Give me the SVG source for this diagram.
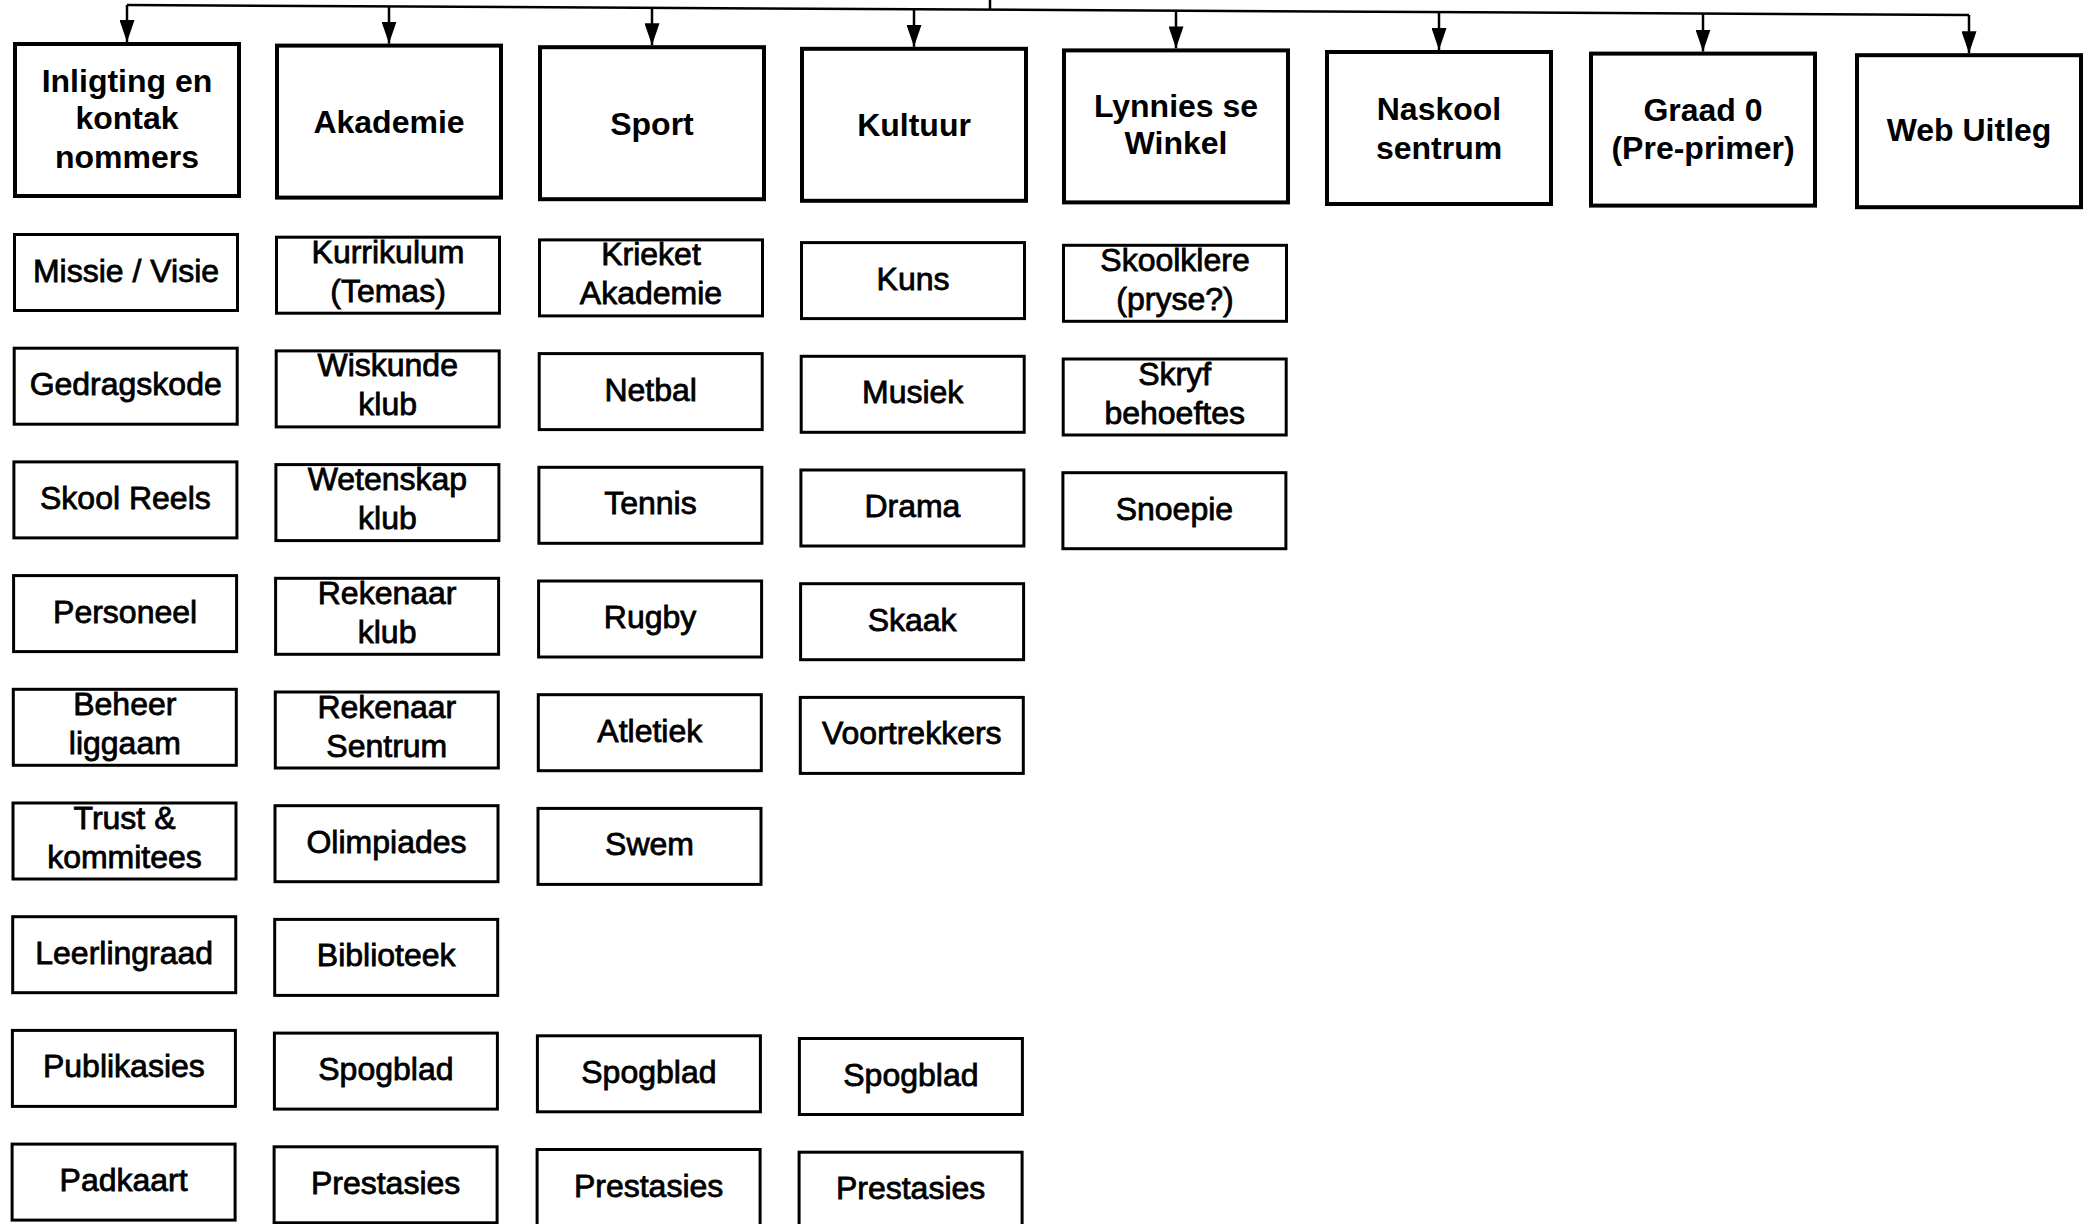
<svg xmlns="http://www.w3.org/2000/svg" width="2092" height="1224" viewBox="0 0 2092 1224">
<defs>
<style>
.top rect{fill:#fff;stroke:#000;stroke-width:4}
.sub rect{fill:#fff;stroke:#000;stroke-width:3}
.top text{font-family:"Liberation Sans",Arial,sans-serif;font-weight:bold;font-size:32px;text-anchor:middle;fill:#000}
.sub text{font-family:"Liberation Sans",Arial,sans-serif;font-size:32px;text-anchor:middle;fill:#000;stroke:#000;stroke-width:0.8}
.conn line{stroke:#000;stroke-width:2.5;fill:none}
</style>
<marker id="ah" markerUnits="userSpaceOnUse" markerWidth="22" markerHeight="15" viewBox="0 0 22 15" refX="22" refY="7.5" orient="auto">
<path d="M0,0 L22,7.5 L0,15 Z" fill="#000"/>
</marker>
</defs>
<rect width="2092" height="1224" fill="#fff"/>
<g id="connectors" class="conn">
<line x1="990" y1="0" x2="990" y2="10.2"/>
<line x1="127" y1="5" x2="1969" y2="15"/>
<line x1="127" y1="5" x2="127" y2="42" marker-end="url(#ah)"/>
<line x1="389" y1="6.4" x2="389" y2="43.6" marker-end="url(#ah)"/>
<line x1="652" y1="7.9" x2="652" y2="45.2" marker-end="url(#ah)"/>
<line x1="914" y1="9.3" x2="914" y2="46.8" marker-end="url(#ah)"/>
<line x1="1176" y1="10.7" x2="1176" y2="48.4" marker-end="url(#ah)"/>
<line x1="1439" y1="12.1" x2="1439" y2="50" marker-end="url(#ah)"/>
<line x1="1703" y1="13.6" x2="1703" y2="51.6" marker-end="url(#ah)"/>
<line x1="1969" y1="15" x2="1969" y2="53.2" marker-end="url(#ah)"/>
</g>
<g id="inligting" class="top" transform="translate(13,42)"><rect x="2" y="2" width="224" height="152"/><text x="114" y="49.5">Inligting en</text><text x="114" y="86.5">kontak</text><text x="114" y="125.5">nommers</text></g>
<g id="akademie" class="top" transform="translate(275,43.6)"><rect x="2" y="2" width="224" height="152"/><text x="114" y="89.5">Akademie</text></g>
<g id="sport" class="top" transform="translate(538,45.2)"><rect x="2" y="2" width="224" height="152"/><text x="114" y="89.5">Sport</text></g>
<g id="kultuur" class="top" transform="translate(800,46.8)"><rect x="2" y="2" width="224" height="152"/><text x="114" y="89.5">Kultuur</text></g>
<g id="winkel" class="top" transform="translate(1062,48.4)"><rect x="2" y="2" width="224" height="152"/><text x="114" y="68.5">Lynnies se</text><text x="114" y="105.5">Winkel</text></g>
<g id="naskool" class="top" transform="translate(1325,50)"><rect x="2" y="2" width="224" height="152"/><text x="114" y="69.5">Naskool</text><text x="114" y="108.5">sentrum</text></g>
<g id="graad0" class="top" transform="translate(1589,51.6)"><rect x="2" y="2" width="224" height="152"/><text x="114" y="69">Graad 0</text><text x="114" y="107">(Pre-primer)</text></g>
<g id="web" class="top" transform="translate(1855,53.2)"><rect x="2" y="2" width="224" height="152"/><text x="114" y="87.5">Web Uitleg</text></g>

<g id="missie" class="sub" transform="translate(13,233)"><rect x="1.5" y="1.5" width="223" height="76"/><text x="113" y="48.5">Missie / Visie</text></g>
<g id="gedragskode" class="sub" transform="translate(12.7,346.7)"><rect x="1.5" y="1.5" width="223" height="76"/><text x="113" y="48.5">Gedragskode</text></g>
<g id="skoolreels" class="sub" transform="translate(12.4,460.4)"><rect x="1.5" y="1.5" width="223" height="76"/><text x="113" y="48.5">Skool Reels</text></g>
<g id="personeel" class="sub" transform="translate(12.1,574.1)"><rect x="1.5" y="1.5" width="223" height="76"/><text x="113" y="48.5">Personeel</text></g>
<g id="beheer" class="sub" transform="translate(11.8,687.8)"><rect x="1.5" y="1.5" width="223" height="76"/><text x="113" y="27">Beheer</text><text x="113" y="66">liggaam</text></g>
<g id="trust" class="sub" transform="translate(11.5,801.5)"><rect x="1.5" y="1.5" width="223" height="76"/><text x="113" y="27">Trust &amp;</text><text x="113" y="66">kommitees</text></g>
<g id="leerlingraad" class="sub" transform="translate(11.2,915.2)"><rect x="1.5" y="1.5" width="223" height="76"/><text x="113" y="48.5">Leerlingraad</text></g>
<g id="publikasies" class="sub" transform="translate(10.9,1028.9)"><rect x="1.5" y="1.5" width="223" height="76"/><text x="113" y="48.5">Publikasies</text></g>
<g id="padkaart" class="sub" transform="translate(10.6,1142.6)"><rect x="1.5" y="1.5" width="223" height="76"/><text x="113" y="48.5">Padkaart</text></g>

<g id="kurrikulum" class="sub" transform="translate(275,235.7)"><rect x="1.5" y="1.5" width="223" height="76"/><text x="113" y="27">Kurrikulum</text><text x="113" y="66">(Temas)</text></g>
<g id="wiskunde" class="sub" transform="translate(274.7,349.4)"><rect x="1.5" y="1.5" width="223" height="76"/><text x="113" y="27">Wiskunde</text><text x="113" y="66">klub</text></g>
<g id="wetenskap" class="sub" transform="translate(274.4,463.1)"><rect x="1.5" y="1.5" width="223" height="76"/><text x="113" y="27">Wetenskap</text><text x="113" y="66">klub</text></g>
<g id="rekenaarklub" class="sub" transform="translate(274.1,576.8)"><rect x="1.5" y="1.5" width="223" height="76"/><text x="113" y="27">Rekenaar</text><text x="113" y="66">klub</text></g>
<g id="rekenaarsentrum" class="sub" transform="translate(273.8,690.5)"><rect x="1.5" y="1.5" width="223" height="76"/><text x="113" y="27">Rekenaar</text><text x="113" y="66">Sentrum</text></g>
<g id="olimpiades" class="sub" transform="translate(273.5,804.2)"><rect x="1.5" y="1.5" width="223" height="76"/><text x="113" y="48.5">Olimpiades</text></g>
<g id="biblioteek" class="sub" transform="translate(273.2,917.9)"><rect x="1.5" y="1.5" width="223" height="76"/><text x="113" y="48.5">Biblioteek</text></g>
<g id="spogblad-ak" class="sub" transform="translate(272.9,1031.6)"><rect x="1.5" y="1.5" width="223" height="76"/><text x="113" y="48.5">Spogblad</text></g>
<g id="prestasies-ak" class="sub" transform="translate(272.6,1145.3)"><rect x="1.5" y="1.5" width="223" height="76"/><text x="113" y="48.5">Prestasies</text></g>

<g id="krieket" class="sub" transform="translate(538,238.4)"><rect x="1.5" y="1.5" width="223" height="76"/><text x="113" y="27">Krieket</text><text x="113" y="66">Akademie</text></g>
<g id="netbal" class="sub" transform="translate(537.7,352.1)"><rect x="1.5" y="1.5" width="223" height="76"/><text x="113" y="48.5">Netbal</text></g>
<g id="tennis" class="sub" transform="translate(537.4,465.8)"><rect x="1.5" y="1.5" width="223" height="76"/><text x="113" y="48.5">Tennis</text></g>
<g id="rugby" class="sub" transform="translate(537.1,579.5)"><rect x="1.5" y="1.5" width="223" height="76"/><text x="113" y="48.5">Rugby</text></g>
<g id="atletiek" class="sub" transform="translate(536.8,693.2)"><rect x="1.5" y="1.5" width="223" height="76"/><text x="113" y="48.5">Atletiek</text></g>
<g id="swem" class="sub" transform="translate(536.5,806.9)"><rect x="1.5" y="1.5" width="223" height="76"/><text x="113" y="48.5">Swem</text></g>
<g id="spogblad-sp" class="sub" transform="translate(535.9,1034.3)"><rect x="1.5" y="1.5" width="223" height="76"/><text x="113" y="48.5">Spogblad</text></g>
<g id="prestasies-sp" class="sub" transform="translate(535.6,1148)"><rect x="1.5" y="1.5" width="223" height="76"/><text x="113" y="48.5">Prestasies</text></g>

<g id="kuns" class="sub" transform="translate(800,241.1)"><rect x="1.5" y="1.5" width="223" height="76"/><text x="113" y="48.5">Kuns</text></g>
<g id="musiek" class="sub" transform="translate(799.7,354.8)"><rect x="1.5" y="1.5" width="223" height="76"/><text x="113" y="48.5">Musiek</text></g>
<g id="drama" class="sub" transform="translate(799.4,468.5)"><rect x="1.5" y="1.5" width="223" height="76"/><text x="113" y="48.5">Drama</text></g>
<g id="skaak" class="sub" transform="translate(799.1,582.2)"><rect x="1.5" y="1.5" width="223" height="76"/><text x="113" y="48.5">Skaak</text></g>
<g id="voortrekkers" class="sub" transform="translate(798.8,695.9)"><rect x="1.5" y="1.5" width="223" height="76"/><text x="113" y="48.5">Voortrekkers</text></g>
<g id="spogblad-ku" class="sub" transform="translate(797.9,1037)"><rect x="1.5" y="1.5" width="223" height="76"/><text x="113" y="48.5">Spogblad</text></g>
<g id="prestasies-ku" class="sub" transform="translate(797.6,1150.7)"><rect x="1.5" y="1.5" width="223" height="76"/><text x="113" y="48.5">Prestasies</text></g>

<g id="skoolklere" class="sub" transform="translate(1062,243.8)"><rect x="1.5" y="1.5" width="223" height="76"/><text x="113" y="27">Skoolklere</text><text x="113" y="66">(pryse?)</text></g>
<g id="skryf" class="sub" transform="translate(1061.7,357.5)"><rect x="1.5" y="1.5" width="223" height="76"/><text x="113" y="27">Skryf</text><text x="113" y="66">behoeftes</text></g>
<g id="snoepie" class="sub" transform="translate(1061.4,471.2)"><rect x="1.5" y="1.5" width="223" height="76"/><text x="113" y="48.5">Snoepie</text></g>
</svg>
